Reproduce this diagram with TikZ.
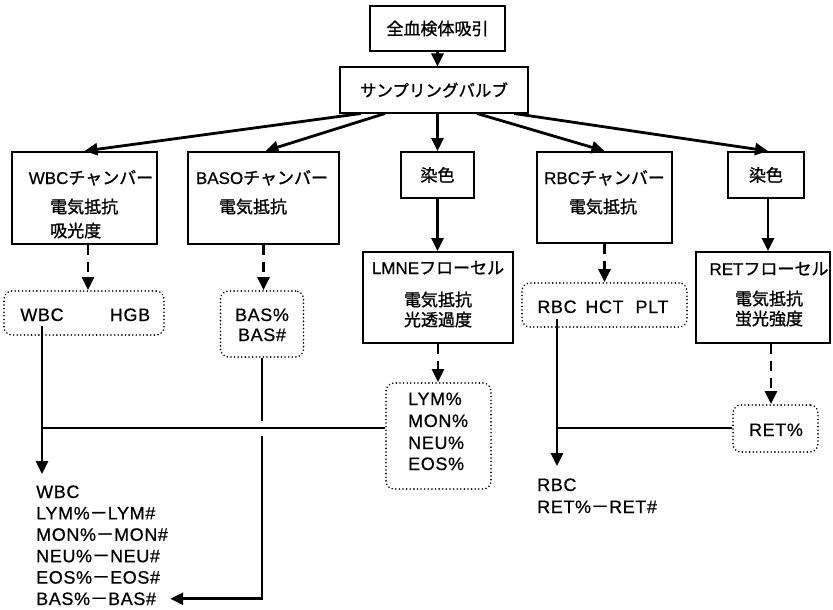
\documentclass[tikz,border=0pt]{standalone}
\usepackage{fontspec}
\setmainfont{Liberation Sans}[FakeBold=0.6]
\newfontfamily\lat{Liberation Sans}[FakeBold=0.6, LetterSpace=3.5]
\newfontfamily\jp{Noto Sans CJK JP}[FakeBold=1.2]
\usetikzlibrary{arrows.meta}
\newcommand\fs{\fontsize{17}{21}\selectfont}
\newcommand\fsl{\fontsize{18}{21}\selectfont}
\begin{document}
\begin{tikzpicture}[x=1pt,y=-1pt,
 box/.style={draw, line width=2pt, inner sep=0pt, font=\fs\jp},
 dbox/.style={draw, line width=1.8pt, dash pattern=on 0.01pt off 3.6pt, line cap=round, rounded corners=8pt, inner sep=0pt},
 t/.style={inner sep=0pt, anchor=base, font=\fs},
 tl/.style={t, anchor=base west},
 lt/.style={t, font=\fsl\lat},
 ltl/.style={lt, anchor=base west},
 conn/.style={line width=2.8pt, -{Triangle[length=13pt,width=12pt]}},
 lnk/.style={line width=2.4pt},
 dconn/.style={line width=2.8pt, dash pattern=on 10pt off 7pt, -{Triangle[length=13pt,width=12pt]}}]
\useasboundingbox (0,0) rectangle (833,610);
% top
\node[box, minimum width=135pt, minimum height=45pt] (A) at (437.5,28.5) {全血検体吸引};
\node[box, minimum width=188pt, minimum height=45pt, font=\fontsize{16.5}{20}\selectfont\jp] (B) at (434,90) {サンプリングバルブ};
% row 1
\node[box, minimum width=145pt, minimum height=92pt] (wbc) at (84.5,198) {};
\node[t] (wbc1) at (91,184) {WBC{\jp チャンバー}};
\node[tl] (wbc2) at (50,213) {\jp 電気抵抗};
\node[tl] (wbc3) at (50,237) {\jp 吸光度};
\node[box, minimum width=151pt, minimum height=92pt] (baso) at (263.5,198) {};
\node[t] (baso1) at (262,184) {BASO{\jp チャンバー}};
\node[t] (baso2) at (253,213) {\jp 電気抵抗};
\node[box, minimum width=73pt, minimum height=46pt] (st1) at (437.5,175) {染色};
\node[box, minimum width=135pt, minimum height=91pt] (rbc) at (604.5,197.5) {};
\node[t] (rbc1) at (604.5,184) {RBC{\jp チャンバー}};
\node[t] (rbc2) at (603,213) {\jp 電気抵抗};
\node[box, minimum width=76pt, minimum height=46pt] (st2) at (766,175) {染色};
% row 2
\node[dbox, minimum width=160pt, minimum height=44pt] (whg) at (84,313) {};
\node[lt] (wbct) at (42,321) {WBC};
\node[lt] (hgbt) at (130,321) {HGB};
\node[dbox, minimum width=83pt, minimum height=66pt] (basb) at (262,324) {};
\node[lt] (bas1) at (262,321) {BAS\%};
\node[lt] (bas2) at (262,341) {BAS\#};
\node[box, minimum width=150pt, minimum height=91pt] (lmne) at (438,297.5) {};
\node[t] (lm1) at (438,274) {LMNE{\jp フローセル}};
\node[t] (lm2) at (438,306) {\jp 電気抵抗};
\node[t] (lm3) at (438,326) {\jp 光透過度};
\node[dbox, minimum width=165pt, minimum height=44pt] (rhp) at (604.5,305) {};
\node[lt] (rbct) at (557,313) {RBC};
\node[lt] (hctt) at (604.5,313) {HCT};
\node[lt] (pltt) at (652,313) {PLT};
\node[box, minimum width=134pt, minimum height=91pt] (ret) at (763,297.5) {};
\node[t] (rt1) at (769,275) {RET{\jp フローセル}};
\node[t] (rt2) at (769,305) {\jp 電気抵抗};
\node[t] (rt3) at (769,325) {\jp 蛍光強度};
% row 3
\node[dbox, minimum width=105pt, minimum height=106pt] (lym) at (438.5,436) {};
\node[ltl] (ly1) at (408,405) {LYM\%};
\node[ltl] (ly2) at (408,427) {MON\%};
\node[ltl] (ly3) at (408,449) {NEU\%};
\node[ltl] (ly4) at (408,470) {EOS\%};
\node[dbox, minimum width=85pt, minimum height=47pt] (retp) at (775.5,428.5) {};
\node[lt] (rtp) at (776,436) {RET\%};
% bottom texts
\node[ltl] (b1) at (36,498) {WBC};
\node[ltl] (b2) at (36,519.4) {LYM\%{\jp －}LYM\#};
\node[ltl] (b3) at (36,540.8) {MON\%{\jp －}MON\#};
\node[ltl] (b4) at (36,562.2) {NEU\%{\jp －}NEU\#};
\node[ltl] (b5) at (36,583.6) {EOS\%{\jp －}EOS\#};
\node[ltl] (b6) at (36,605) {BAS\%{\jp －}BAS\#};
\node[ltl] (r1) at (537,491) {RBC};
\node[ltl] (r2) at (537,513) {RET\%{\jp －}RET\#};
% connectors top
\draw[conn] (A) -- (A |- B.north);
\draw[conn] ([xshift=-73pt]B.south) -- (wbc.north);
\draw[conn] ([xshift=-49pt]B.south) -- ([xshift=2pt]baso.north);
\draw[conn] (st1.north |- B.south) -- (st1.north);
\draw[conn] ([xshift=43pt]B.south) -- (rbc.north);
\draw[conn] ([xshift=80pt]B.south) -- ([xshift=2pt]st2.north);
\draw[conn] ([xshift=2pt]st2.south) -- ([xshift=2pt]st2.south |- ret.north);
\draw[conn] (st1.south) -- (st1.south |- lmne.north);
% dashed
\draw[dconn] ([xshift=3.5pt]wbc.south) -- ([xshift=3.5pt]wbc.south |- whg.north);
\draw[dconn] (baso.south) -- (baso.south |- basb.north);
\draw[dconn] (rbc.south) -- (rbc.south |- rhp.north);
\draw[dconn] (lmne.south) -- (lmne.south |- lym.north);
\draw[dconn] ([xshift=-4.5pt]retp.north |- ret.south) -- ([xshift=-4.5pt]retp.north);
% solid result lines
\coordinate (j1) at (42,428);
\coordinate (j2) at (557,428);
\coordinate (g1) at (262,421);
\coordinate (g2) at (262,436);
\draw[conn, shorten <=5pt] (wbct.south) -- (wbct.south |- 0,474);
\draw[lnk] (lym.west |- j1) -- (j1);
\draw[lnk] (basb.south) -- (g1);
\draw[conn] (g2) |- ([xshift=14pt]b6.east);
\draw[conn, shorten <=6pt] (rbct.south) -- (rbct.south |- 0,466);
\draw[lnk] (retp.west |- j2) -- (j2);
\end{tikzpicture}
\end{document}
